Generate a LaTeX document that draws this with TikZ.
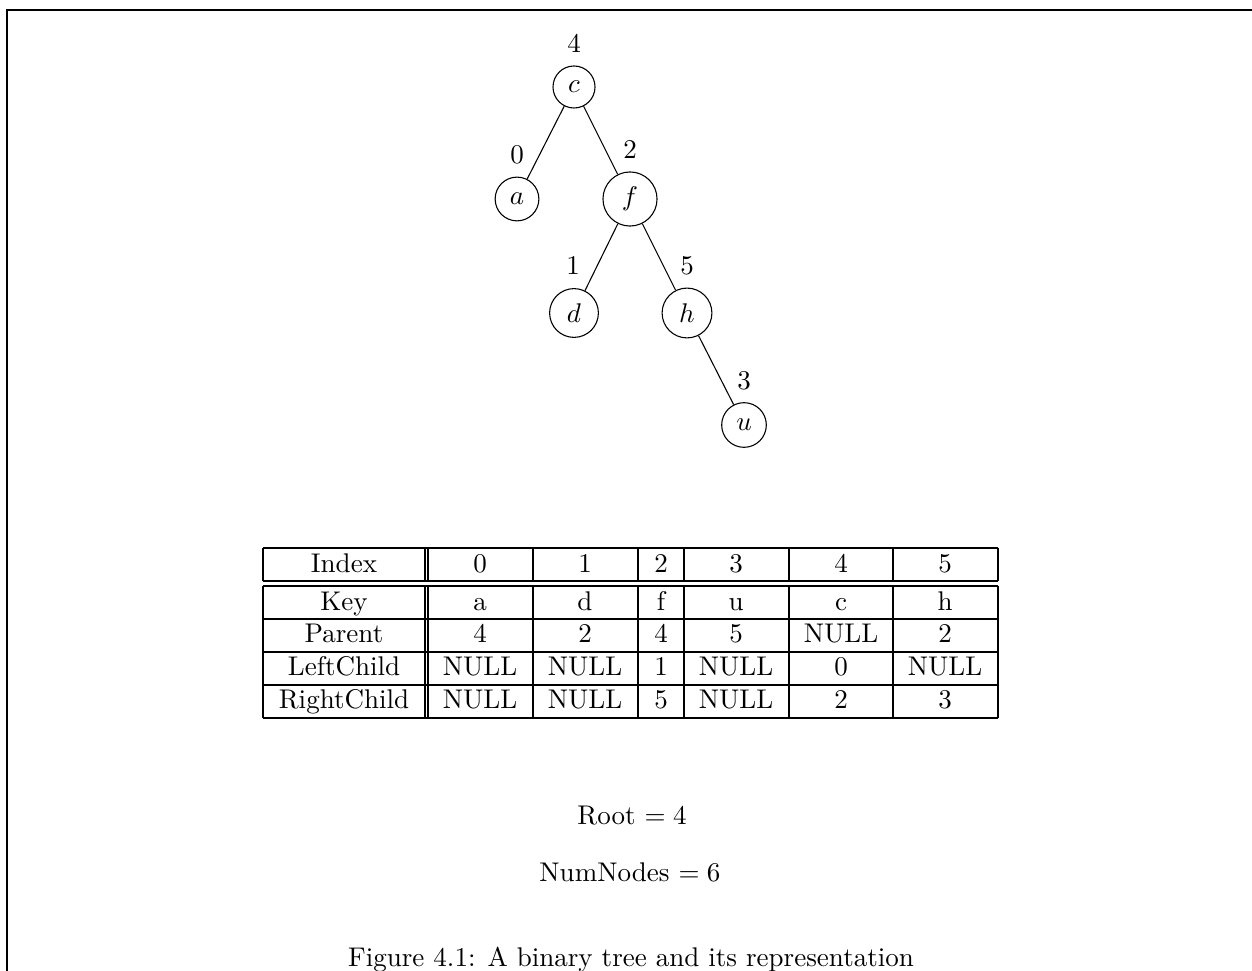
\documentclass[tikz,border=0pt]{standalone}
\begin{document}
\begin{tikzpicture}[x=0.37pt,y=-0.37pt,
  tn/.style={circle,draw,inner sep=0.3333em},
  lab/.style={inner sep=0pt},
  cell/.style={inner sep=0pt,anchor=base},
  rule/.style={line width=0.4pt}]
\useasboundingbox (0,0) rectangle (1252,971);
% frame
\coordinate (fb) at (7,971);
\coordinate (fc) at (7,10);
\coordinate (fr) at (1252,10);
\draw[line width=0.6pt] (fb) -- (fc) -- (fr);
% tree
\node[tn] (c) at (574,87) {$c$};
\node[tn] (a) at (517,199) {$a$};
\node[tn] (f) at (630,199) {$f$};
\node[tn] (d) at (574,313) {$d$};
\node[tn] (h) at (687,313) {$h$};
\node[tn] (u) at (744,425) {$u$};
\node[lab] (lc) at (574,43) {4};
\node[lab] (la) at (517,155) {0};
\node[lab] (lf) at (630,150) {2};
\node[lab] (ld) at (573,266) {1};
\node[lab] (lh) at (687,266) {5};
\node[lab] (lu) at (744,381) {3};
\draw (c) -- (a);
\draw (c) -- (f);
\draw (f) -- (d);
\draw (f) -- (h);
\draw (h) -- (u);
% table rules
\foreach \y in {548,581,586,619,652,685,718}
  \draw[rule] (263,\y) -- (998,\y);
\foreach \x in {263,425,428,533,638,684,789,893,998}{
  \draw[rule] (\x,548) -- (\x,581);
  \draw[rule] (\x,586) -- (\x,718);
}
% table texts (baselines)
\node[cell] (t00) at (344,572) {Index};
\node[cell] (t01) at (480,572) {0};
\node[cell] (t02) at (585,572) {1};
\node[cell] (t03) at (661,572) {2};
\node[cell] (t04) at (736,572) {3};
\node[cell] (t05) at (841,572) {4};
\node[cell] (t06) at (945,572) {5};
\node[cell] (t10) at (344,610) {Key};
\node[cell] (t11) at (480,610) {a};
\node[cell] (t12) at (585,610) {d};
\node[cell] (t13) at (661,610) {f};
\node[cell] (t14) at (736,610) {u};
\node[cell] (t15) at (841,610) {c};
\node[cell] (t16) at (945,610) {h};
\node[cell] (t20) at (344,642) {Parent};
\node[cell] (t21) at (480,642) {4};
\node[cell] (t22) at (585,642) {2};
\node[cell] (t23) at (661,642) {4};
\node[cell] (t24) at (736,642) {5};
\node[cell] (t25) at (841,642) {NULL};
\node[cell] (t26) at (945,642) {2};
\node[cell] (t30) at (344,675) {LeftChild};
\node[cell] (t31) at (480,675) {NULL};
\node[cell] (t32) at (585,675) {NULL};
\node[cell] (t33) at (661,675) {1};
\node[cell] (t34) at (736,675) {NULL};
\node[cell] (t35) at (841,675) {0};
\node[cell] (t36) at (945,675) {NULL};
\node[cell] (t40) at (344,708) {RightChild};
\node[cell] (t41) at (480,708) {NULL};
\node[cell] (t42) at (585,708) {NULL};
\node[cell] (t43) at (661,708) {5};
\node[cell] (t44) at (736,708) {NULL};
\node[cell] (t45) at (841,708) {2};
\node[cell] (t46) at (945,708) {3};
% bottom texts
\node[cell] (root) at (632,824) {Root $= 4$};
\node[cell] (num) at (630,881) {NumNodes $= 6$};
\node[cell] (cap) at (631,966) {Figure 4.1: A binary tree and its representation};
\end{tikzpicture}
\end{document}
